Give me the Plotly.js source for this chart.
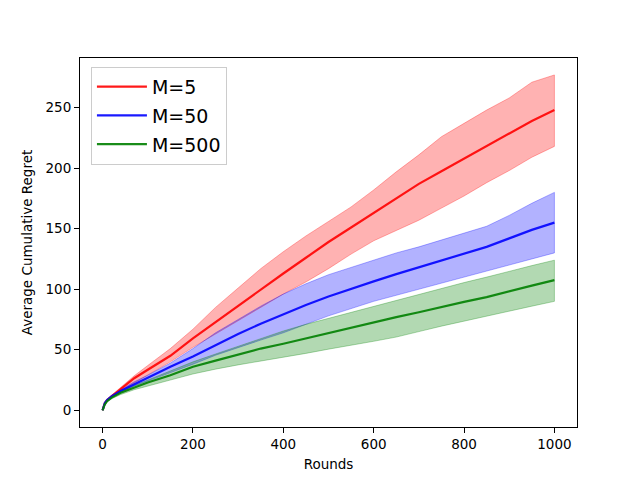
<!DOCTYPE html>
<html>
<head>
<meta charset="utf-8">
<script src="https://cdn.plot.ly/plotly-3.0.1.min.js"></script>
<style>html,body{margin:0;padding:0;background:#fff;}#chart{width:640px;height:480px;}</style>
</head>
<body>
<div id="chart"></div>
<script>
const rounds = [0, 2, 5, 10, 20, 40, 70, 100, 150, 200, 250, 300, 350, 400, 450, 500, 550, 600, 650, 700, 750, 800, 850, 900, 950, 1000];

const m5Mean  = [0, 3.5, 6, 8.5, 11.5, 18, 26.5, 33.5, 45, 59.5, 73, 86, 99.5, 113, 126, 139, 151, 163, 175.5, 187, 197.5, 208, 218, 228.5, 239, 248];
const m5Upper = [0, 4, 6.5, 9, 12.5, 19, 28.5, 37, 51, 67, 85, 101, 117, 131, 144, 156, 168, 182, 197, 211, 226, 237, 248, 258, 271, 277];
const m5Lower = [0, 3, 5, 7.5, 10.5, 16, 23, 29, 40, 52, 63, 74, 85, 96, 106, 117, 129, 140, 148.5, 157, 167, 177, 188, 198, 209, 218];

const m50Mean  = [0, 3.5, 6, 8.5, 11.5, 16, 21.5, 27, 36, 44.5, 54, 63, 71.5, 79.5, 87, 94, 100.5, 106.5, 112.5, 118, 123.5, 129, 135, 142, 149, 155];
const m50Upper = [0, 4, 6.5, 9, 12.5, 17, 23.5, 29, 39, 51, 64, 75, 86, 96, 104.5, 112, 118, 124, 130, 135, 140.5, 146, 152, 161, 171, 180];
const m50Lower = [0, 3, 5.5, 8, 10.5, 15, 20, 24, 31, 38, 45.5, 52, 58, 64, 71, 78, 84, 90, 95, 100, 105, 110, 115, 120, 125, 130];

const m500Mean  = [0, 3, 5, 7.5, 10.5, 14.5, 19, 23, 29, 36, 41, 46, 51, 55, 59.5, 64, 68.5, 73, 77, 81, 85.5, 89.5, 93.5, 98.5, 103, 107.5];
const m500Upper = [0, 3.5, 5.5, 8, 11, 15.5, 20.5, 25, 32, 40, 46.5, 53, 59.5, 65.5, 71, 76, 80.5, 86, 91, 96, 101, 105.5, 110, 115, 119.5, 124];
const m500Lower = [0, 2.5, 4.5, 7, 9.5, 13, 17, 20, 25, 30, 34, 37.5, 41, 44, 47, 50.5, 54, 57, 60.5, 65, 69.5, 74, 78, 82, 86, 90];

const seriesNames = ['M=5', 'M=50', 'M=500'];
const lineColors = ['rgba(255,0,0,0.9)', 'rgba(0,0,255,0.9)', 'rgba(0,128,0,0.9)'];
const fillColors = ['rgba(255,0,0,0.3)', 'rgba(0,0,255,0.3)', 'rgba(0,128,0,0.3)'];

const means = [m5Mean, m50Mean, m500Mean];
const uppers = [m5Upper, m50Upper, m500Upper];
const lowers = [m5Lower, m50Lower, m500Lower];

const traces = [];
for (let i = 0; i < 3; i++) {
  traces.push({
    x: rounds.concat(rounds.slice().reverse()),
    y: uppers[i].concat(lowers[i].slice().reverse()),
    type: 'scatter', mode: 'lines', fill: 'toself',
    fillcolor: fillColors[i],
    line: {color: fillColors[i], width: 1},
    showlegend: false, hoverinfo: 'skip'
  });
}
for (let i = 0; i < 3; i++) {
  traces.push({
    x: rounds, y: means[i], type: 'scatter', mode: 'lines',
    name: seriesNames[i], legendgroup: 'g' + i,
    line: {color: lineColors[i], width: 2.2}
  });
}

const font = {family: 'DejaVu Sans, sans-serif', size: 13.5, color: '#000'};

const layout = {
  width: 640, height: 480,
  margin: {l: 80, r: 63, t: 58, b: 53},
  paper_bgcolor: '#fff', plot_bgcolor: '#fff',
  font: font,
  xaxis: {
    range: [-50, 1050], tickvals: [0, 200, 400, 600, 800, 1000],
    showgrid: false, zeroline: false, showline: true, mirror: true,
    linecolor: '#000', linewidth: 1, ticks: 'outside', ticklen: 5, tickcolor: '#000',
    title: {text: 'Rounds', font: font, standoff: 8}
  },
  yaxis: {
    range: [-13.8, 291], tickvals: [0, 50, 100, 150, 200, 250],
    showgrid: false, zeroline: false, showline: true, mirror: true,
    linecolor: '#000', linewidth: 1, ticks: 'outside', ticklen: 5, tickcolor: '#000',
    title: {text: 'Average Cumulative Regret', font: font, standoff: 9}
  },
  showlegend: true,
  legend: {
    x: 0.022, y: 0.976, xanchor: 'left', yanchor: 'top',
    bgcolor: 'rgba(255,255,255,0.8)', bordercolor: '#cccccc', borderwidth: 1,
    font: {family: 'DejaVu Sans, sans-serif', size: 19, color: '#000'},
    traceorder: 'grouped', tracegroupgap: 1, itemwidth: 50
  }
};

Plotly.newPlot('chart', traces, layout, {displayModeBar: false, staticPlot: true});
</script>
</body>
</html>
